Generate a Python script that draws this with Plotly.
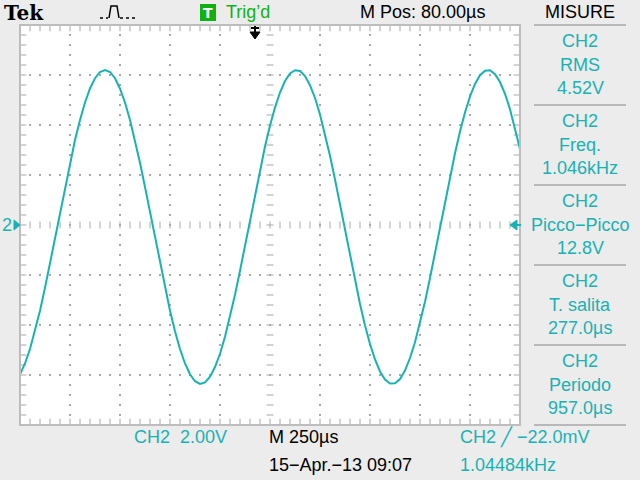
import plotly.graph_objects as go

time_us = list(range(0, 2501, 25))          # 250 us/div, 10 divisions
ch2_volts = [
    -5.97, -5.54, -4.96, -4.25, -3.43, -2.51, -1.53, -0.52, 0.51, 1.53,
    2.50, 3.40, 4.20, 4.90, 5.46, 5.87, 6.12, 6.20, 6.12, 5.87,
    5.45, 4.90, 4.20, 3.39, 2.49, 1.52, 0.51, -0.52, -1.54, -2.51,
    -3.43, -4.25, -4.96, -5.54, -5.97, -6.25, -6.36, -6.30, -6.07, -5.68,
    -5.15, -4.47, -3.68, -2.79, -1.83, -0.82, 0.21, 1.23, 2.21, 3.14,
    3.98, 4.70, 5.30, 5.76, 6.06, 6.19, 6.16, 5.96, 5.59, 5.08,
    4.42, 3.65, 2.77, 1.82, 0.81, -0.21, -1.24, -2.23, -3.16, -4.02,
    -4.76, -5.38, -5.86, -6.18, -6.34, -6.33, -6.16, -5.82, -5.32, -4.69,
    -3.93, -3.07, -2.12, -1.13, -0.10, 0.92, 1.92, 2.87, 3.74, 4.50,
    5.14, 5.64, 5.99, 6.17, 6.19, 6.03, 5.72, 5.25, 4.63, 3.89,
    3.04,
]
measure_names = ["RMS", "Freq.", "Picco\u2212Picco", "T. salita", "Periodo"]
measure_values = ["4.52V", "1.046kHz", "12.8V", "277.0\u00b5s", "957.0\u00b5s"]

TEAL = "#19B2B2"
GRAY = "#A8A8A8"
BG = "#ECECEC"
FONT = "Liberation Sans, Arial, sans-serif"

W, H = 640, 480
L, R, T, B = 20, 120, 25, 55


def px(x):
    return (x - L) / (W - L - R)


def py(y):
    return (H - B - y) / (H - T - B)


fig = go.Figure()

# ---- graticule decorations ----
gx, gy = [], []
for i in range(1, 10):
    if i == 5:
        continue
    t = 250 * i
    for k in range(1, 40):
        gx.append(t)
        gy.append(-8 + 0.4 * k)
for j in range(-3, 4):
    if j == 0:
        continue
    v = 2 * j
    for k in range(1, 50):
        gx.append(50 * k)
        gy.append(v)
fig.add_trace(go.Scatter(x=gx, y=gy, mode="markers", hoverinfo="skip",
                         marker=dict(symbol="square", size=2, color=GRAY, line=dict(width=0))))

# vertical tick marks (top, bottom edges)
vx, vy = [], []
for k in range(1, 50):
    for v in (8, -8):
        vx.append(50 * k)
        vy.append(v)
fig.add_trace(go.Scatter(x=vx, y=vy, mode="markers", hoverinfo="skip",
                         marker=dict(symbol="line-ns", size=9, color=GRAY, line=dict(width=1, color=GRAY))))
# centre horizontal line ticks
fig.add_trace(go.Scatter(x=[50 * k for k in range(1, 50)], y=[0] * 49, mode="markers", hoverinfo="skip",
                         marker=dict(symbol="line-ns", size=5, color=GRAY, line=dict(width=1, color=GRAY))))
# left / right edge ticks
hx, hy = [], []
for k in range(1, 40):
    for t in (0, 2500):
        hx.append(t)
        hy.append(-8 + 0.4 * k)
fig.add_trace(go.Scatter(x=hx, y=hy, mode="markers", hoverinfo="skip",
                         marker=dict(symbol="line-ew", size=9, color=GRAY, line=dict(width=1, color=GRAY))))
# centre vertical line ticks
fig.add_trace(go.Scatter(x=[1250] * 39, y=[-8 + 0.4 * k for k in range(1, 40)], mode="markers",
                         hoverinfo="skip",
                         marker=dict(symbol="line-ew", size=5, color=GRAY, line=dict(width=1, color=GRAY))))

# ---- waveform ----
fig.add_trace(go.Scatter(x=time_us, y=ch2_volts, mode="lines", hoverinfo="skip",
                         line=dict(color=TEAL, width=2)))

shapes = []
# plot border
shapes.append(dict(type="rect", xref="paper", yref="paper", x0=0, x1=1, y0=0, y1=1,
                   line=dict(color="#BDBDBD", width=2)))
# right panel separators
for ys in (25, 105, 185, 265, 345, 425):
    shapes.append(dict(type="line", xref="paper", yref="paper",
                       x0=px(534), x1=px(626), y0=py(ys), y1=py(ys),
                       line=dict(color="#B8B8B8", width=2)))
# trigger-position arrow (top)
shapes.append(dict(type="line", xref="paper", yref="paper", x0=px(255), x1=px(255),
                   y0=py(26), y1=py(34), line=dict(color="black", width=2)))
shapes.append(dict(type="line", xref="paper", yref="paper", x0=px(251), x1=px(259),
                   y0=py(28), y1=py(28), line=dict(color="black", width=2)))
shapes.append(dict(type="path", xref="paper", yref="paper",
                   path=f"M{px(250)},{py(32)} L{px(260)},{py(32)} L{px(255)},{py(39)} Z",
                   fillcolor="black", line=dict(color="black", width=1)))
# trigger-level arrow (right edge)
shapes.append(dict(type="path", xref="paper", yref="paper",
                   path=f"M{px(510)},{py(225)} L{px(517)},{py(220)} L{px(517)},{py(230)} Z",
                   fillcolor=TEAL, line=dict(color=TEAL, width=1)))
shapes.append(dict(type="line", xref="paper", yref="paper", x0=px(515), x1=px(521),
                   y0=py(225), y1=py(225), line=dict(color=TEAL, width=2)))
# ground marker (left)
shapes.append(dict(type="path", xref="paper", yref="paper",
                   path=f"M{px(20)},{py(225)} L{px(14)},{py(220)} L{px(14)},{py(230)} Z",
                   fillcolor=TEAL, line=dict(color=TEAL, width=1)))
# acquisition icon
shapes.append(dict(type="path", xref="paper", yref="paper",
                   path=(f"M{px(109)},{py(18)} L{px(111)},{py(6)} L{px(117)},{py(6)} "
                         f"L{px(119)},{py(18)}"),
                   line=dict(color="black", width=1.5)))
shapes.append(dict(type="line", xref="paper", yref="paper", x0=px(100), x1=px(108),
                   y0=py(18), y1=py(18), line=dict(color="black", width=1.5, dash="dot")))
shapes.append(dict(type="line", xref="paper", yref="paper", x0=px(120), x1=px(135),
                   y0=py(18), y1=py(18), line=dict(color="black", width=1.5, dash="dot")))
# Trig'd green box
shapes.append(dict(type="rect", xref="paper", yref="paper", x0=px(200), x1=px(216),
                   y0=py(4), y1=py(21), fillcolor="#12B012", line=dict(width=0)))

ann = []


def text(x, y, s, color="black", size=18, anchor="left", family=FONT, bold=False):
    if bold:
        s = "<b>" + s + "</b>"
    ann.append(dict(x=px(x), y=py(y), xref="paper", yref="paper", text=s, showarrow=False,
                    xanchor=anchor, yanchor="middle", borderpad=0,
                    font=dict(family=family, size=size, color=color)))


text(3, 13, "Tek", size=20, family="DejaVu Serif, Liberation Serif, serif", bold=True)
text(208, 13, "T", color="white", size=14, anchor="center", family="DejaVu Sans, sans-serif", bold=True)
text(225, 12, "Trig\u2019d", color="#12B012", size=18)
text(422, 12, "M Pos: 80.00\u00b5s", anchor="center")
text(580, 12, "MISURE", anchor="center")
text(1, 225, "2", color=TEAL)

for i, (n, v) in enumerate(zip(measure_names, measure_values)):
    top = 25 + 80 * i
    text(580, top + 16, "CH2", color=TEAL, anchor="center")
    text(580, top + 40, n, color=TEAL, anchor="center")
    text(580, top + 63, v, color=TEAL, anchor="center")

text(133, 437, "CH2&nbsp;&nbsp;2.00V", color=TEAL)
text(268, 437, "M 250\u00b5s")
text(268, 465, "15\u2212Apr.\u221213 09:07")
text(459, 437, "CH2 \u2571 \u221222.0mV", color=TEAL)
text(459, 465, "1.04484kHz", color=TEAL)

fig.update_layout(
    width=W, height=H,
    margin=dict(l=L, r=R, t=T, b=B),
    paper_bgcolor=BG, plot_bgcolor="white",
    showlegend=False,
    shapes=shapes, annotations=ann,
    xaxis=dict(range=[0, 2500], showgrid=False, zeroline=False, showticklabels=False,
               ticks="", fixedrange=True),
    yaxis=dict(range=[-8, 8], showgrid=False, zeroline=False, showticklabels=False,
               ticks="", fixedrange=True),
)

fig.write_html("out.html", config={"displayModeBar": False},
               post_script="document.body.style.margin='0';document.body.style.background='%s';" % BG)
